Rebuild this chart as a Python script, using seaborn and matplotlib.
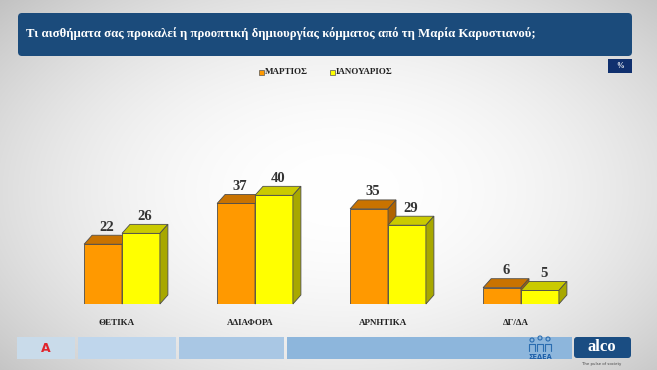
import numpy as np
import pandas as pd
import matplotlib
matplotlib.use("Agg")
import matplotlib.pyplot as plt
import seaborn as sns
from matplotlib.patches import Polygon, Rectangle, FancyBboxPatch, Circle
from matplotlib.transforms import ScaledTranslation

categories = ["ΘΕΤΙΚΑ", "ΑΔΙΑΦΟΡΑ", "ΑΡΝΗΤΙΚΑ", "ΔΓ/ΔΑ"]
periods = ["ΜΑΡΤΙΟΣ", "ΙΑΝΟΥΑΡΙΟΣ"]
march = [22, 37, 35, 6]
january = [26, 40, 29, 5]

title = "Τι αισθήματα σας προκαλεί η προοπτική δημιουργίας κόμματος από τη Μαρία Καρυστιανού;"

front = ["#ff9900", "#ffff00"]
top = ["#c97300", "#caca00"]
side = ["#b06400", "#a8a800"]

df = pd.DataFrame({
    "cat": categories * 2,
    "period": [periods[0]] * 4 + [periods[1]] * 4,
    "val": march + january,
})

sns.set_theme(style="white")
plt.rcParams["font.family"] = ["Liberation Serif", "DejaVu Serif"]

W, H = 657, 370
fig = plt.figure(figsize=(W / 100, H / 100), dpi=100)

# background gradient
bg = fig.add_axes([0, 0, 1, 1], zorder=-10)
yy, xx = np.mgrid[0:H, 0:W]
r = np.sqrt(((xx - 340) / 420.0) ** 2 + ((yy - 190) / 260.0) ** 2)
img = np.clip(1.0 - 0.2 * r ** 2, 0.74, 1.0)
bg.imshow(np.dstack([img, img, img]), extent=[0, W, H, 0], aspect="auto")
bg.set_xlim(0, W)
bg.set_ylim(H, 0)
bg.axis("off")

# title bar
bg.add_patch(FancyBboxPatch((18, 13), 614, 43, boxstyle="round,pad=0,rounding_size=4",
                            fc="#1b4b7b", ec="none"))
bg.text(26, 34, title, color="white", fontsize=9.2, fontweight="bold", va="center", ha="left")
bg.add_patch(Rectangle((608, 59), 24, 14, fc="#10306e", ec="none"))
bg.text(620, 66.5, "%", color="white", fontsize=5.5, fontweight="bold", ha="center", va="center")

# legend
for i, (lab, x0) in enumerate(zip(periods, [262, 333])):
    bg.add_patch(Rectangle((x0 - 3, 69.5), 5, 5, fc=front[i], ec="#555555", lw=0.5))
    bg.text(x0 + 3, 72.5, lab, fontsize=6.5, fontweight="bold", va="center", ha="left", color="#222222")

# bottom strip
bg.add_patch(Rectangle((17, 337), 58, 22, fc="#c9dbea", ec="none"))
bg.text(46, 348, "A", color="#e0242c", fontsize=9, fontweight="bold", ha="center", va="center",
        family="DejaVu Sans")
bg.add_patch(Rectangle((78, 337), 98, 22, fc="#bfd6ec", ec="none"))
bg.add_patch(Rectangle((179, 337), 105, 22, fc="#a9c7e4", ec="none"))
bg.add_patch(Rectangle((287, 337), 285, 22, fc="#8db6dc", ec="none"))
for cx, cy in [(532, 340), (540, 338), (548, 339)]:
    bg.add_patch(Circle((cx, cy), 2.0, fc="none", ec="#2a6db0", lw=0.8))
    bg.plot([cx - 3, cx - 3, cx + 3, cx + 3], [351, 344, 344, 351], color="#2a6db0", lw=0.8)
bg.text(540, 357, "ΣΕΔΕΑ", color="#1c5ea8", fontsize=4.8, fontweight="bold", ha="center", va="center",
        family="DejaVu Sans")
bg.add_patch(FancyBboxPatch((574, 337), 57, 21, boxstyle="round,pad=0,rounding_size=3",
                            fc="#1a4d82", ec="none"))
bg.text(602, 347, "alco", color="white", fontsize=12, fontweight="bold", ha="center", va="center")
bg.text(602, 364, "The pulse of society", color="#444444", fontsize=2.8, ha="center", va="center",
        family="DejaVu Sans")

# chart axes
ax_left, ax_w = 55.5, 532.0
ax_bottom, ax_h = 66.0, 163.0
ax = fig.add_axes([ax_left / W, ax_bottom / H, ax_w / W, ax_h / H])
ax.patch.set_alpha(0)
sns.barplot(data=df, x="cat", y="val", hue="period", palette=front, width=0.57,
            saturation=1, edgecolor="#4d4d4d", linewidth=0.6, ax=ax, legend=False)
ax.set_xlim(-0.5, 3.5)
ax.set_ylim(0, 60)

dx = 8 * 4.0 / ax_w
dy = 9 * 60.0 / ax_h

bars = [p for p in ax.patches if isinstance(p, Rectangle)]
for i, p in enumerate(bars):
    k = 0 if i < len(categories) else 1
    p.set_zorder(2 + 2 * k)
    x0, w, h = p.get_x(), p.get_width(), p.get_height()
    tface = Polygon([(x0, h), (x0 + dx, h + dy), (x0 + w + dx, h + dy), (x0 + w, h)],
                    closed=True, fc=top[k], ec="#4d4d4d", lw=0.6, zorder=2.5 + 2 * k, clip_on=False)
    sface = Polygon([(x0 + w, 0), (x0 + w + dx, dy), (x0 + w + dx, h + dy), (x0 + w, h)],
                    closed=True, fc=side[k], ec="#4d4d4d", lw=0.6, zorder=2.5 + 2 * k, clip_on=False)
    ax.add_patch(tface)
    ax.add_patch(sface)
    ax.text(x0 + w / 2 + dx / 2, h + dy + 0.6, f"{h:.0f}", ha="center", va="bottom",
            fontsize=10.5, fontweight="bold", color="#333333", zorder=10)

ax.set_xlabel("")
ax.set_ylabel("")
ax.set_yticks([])
ax.tick_params(axis="x", length=0, pad=11)
ax.set_xticks(range(len(categories)))
ax.set_xticklabels(categories, fontsize=6.5, fontweight="bold", color="#222222")
for lab in ax.get_xticklabels():
    lab.set_transform(lab.get_transform() + ScaledTranslation(-0.05, 0, fig.dpi_scale_trans))
sns.despine(ax=ax, left=True, bottom=True)

fig.savefig("out.png", dpi=100)
